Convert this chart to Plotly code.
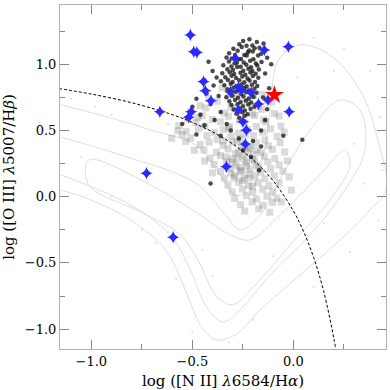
import plotly.graph_objects as go

# contour outlines of the comparison galaxy sample
contour_outer = [(-1.151, 0.693), (-0.954, 0.617), (-0.707, 0.504), (-0.485, 0.391), (-0.362, 0.165),
                 (-0.288, 0.014), (-0.214, 0.051), (-0.154, 0.278), (-0.115, 0.655), (-0.075, 1.032),
                 (0.033, 1.146), (0.181, 1.07), (0.329, 0.806), (0.418, 0.428), (0.458, 0.05),
                 (0.379, -0.1), (0.231, -0.326), (0.033, -0.59), (-0.164, -0.854), (-0.288, -1.043),
                 (-0.386, -1.08), (-0.461, -0.967), (-0.535, -0.703), (-0.633, -0.401), (-0.806, -0.175),
                 (-1.003, -0.024), (-1.151, 0.051)]
contour_mid = [(-1.151, 0.451), (-0.855, 0.315), (-0.485, 0.104), (-0.337, -0.137), (-0.263, -0.251),
               (-0.164, -0.137), (-0.041, 0.202), (0.082, 0.504), (0.23, 0.73), (0.329, 0.655),
               (0.354, 0.353), (0.255, 0.051), (0.082, -0.288), (-0.115, -0.59), (-0.263, -0.854),
               (-0.352, -0.945), (-0.436, -0.817), (-0.51, -0.553), (-0.609, -0.289), (-0.806, -0.062),
               (-1.151, 0.164)]
contour_inner = [(-1.013, 0.277), (-0.707, 0.089), (-0.485, -0.115), (-0.312, -0.288), (-0.214, -0.326),
                 (-0.066, -0.137), (0.131, 0.165), (0.255, 0.353), (0.28, 0.24), (0.181, -0.024),
                 (-0.016, -0.364), (-0.189, -0.666), (-0.302, -0.817), (-0.386, -0.741), (-0.46, -0.515),
                 (-0.559, -0.289), (-0.757, -0.115), (-1.013, 0.089), (-1.013, 0.277)]

faint_pts = [(-1.1, 0.74), (-0.98, 0.68), (-0.9, 0.62), (-0.62, 0.55), (-0.75, -0.25), (-0.68, -0.35),
             (-0.58, -0.62), (-0.5, -1.02), (-0.32, -1.1), (-0.2, -0.93), (0.1, -0.68), (0.28, -0.42),
             (0.42, -0.18), (0.44, 0.2), (0.43, 0.6), (0.38, 0.95), (0.25, 1.12), (0.1, 1.2),
             (-0.04, 1.1), (0.02, 0.9), (0.12, 0.75), (0.2, 0.95), (0.3, 0.4), (0.15, -0.2),
             (-0.1, -0.45), (-0.45, -0.4), (-0.9, 0.0), (-1.05, 0.3), (-0.4, -0.6), (0.35, 0.1)]

gray_pts = [(-0.352, 0.823), (-0.284, 0.781), (-0.231, 0.827), (-0.151, 0.772),
            (-0.418, 0.742), (-0.318, 0.768), (-0.257, 0.731), (-0.197, 0.762), (-0.128, 0.728),
            (-0.462, 0.688), (-0.377, 0.721), (-0.309, 0.676), (-0.228, 0.712), (-0.176, 0.683), (-0.108, 0.716),
            (-0.508, 0.642), (-0.433, 0.671), (-0.341, 0.632), (-0.291, 0.664), (-0.203, 0.627), (-0.158, 0.661),
            (-0.094, 0.628), (-0.524, 0.587), (-0.452, 0.612), (-0.401, 0.583), (-0.322, 0.608), (-0.268, 0.577),
            (-0.192, 0.614), (-0.146, 0.581), (-0.071, 0.609), (-0.567, 0.537), (-0.483, 0.561), (-0.438, 0.532),
            (-0.362, 0.567), (-0.318, 0.529), (-0.243, 0.558), (-0.184, 0.531), (-0.137, 0.566), (-0.062, 0.534),
            (-0.531, 0.494), (-0.471, 0.512), (-0.392, 0.486), (-0.347, 0.509), (-0.273, 0.481), (-0.226, 0.507),
            (-0.152, 0.488), (-0.113, 0.513), (-0.046, 0.487), (-0.508, 0.443), (-0.428, 0.462), (-0.377, 0.431),
            (-0.309, 0.458), (-0.264, 0.436), (-0.198, 0.461), (-0.141, 0.429), (-0.081, 0.456),
            (-0.461, 0.394), (-0.418, 0.411), (-0.348, 0.386), (-0.302, 0.413), (-0.241, 0.381), (-0.183, 0.408),
            (-0.124, 0.384), (-0.066, 0.409), (-0.443, 0.352), (-0.381, 0.336), (-0.323, 0.361), (-0.271, 0.339),
            (-0.219, 0.364), (-0.163, 0.332), (-0.104, 0.357), (-0.043, 0.338), (-0.412, 0.292), (-0.361, 0.311),
            (-0.303, 0.286), (-0.252, 0.309), (-0.203, 0.283), (-0.144, 0.306), (-0.092, 0.289),
            (-0.393, 0.243), (-0.331, 0.262), (-0.284, 0.237), (-0.232, 0.259), (-0.181, 0.239), (-0.127, 0.263),
            (-0.071, 0.241), (-0.361, 0.191), (-0.314, 0.213), (-0.262, 0.188), (-0.213, 0.208), (-0.162, 0.186),
            (-0.113, 0.211), (-0.052, 0.193), (-0.342, 0.139), (-0.291, 0.161), (-0.243, 0.137), (-0.192, 0.159),
            (-0.141, 0.136), (-0.094, 0.158), (-0.324, 0.087), (-0.271, 0.109), (-0.222, 0.085), (-0.174, 0.106),
            (-0.121, 0.083), (-0.071, 0.104), (-0.303, 0.037), (-0.252, 0.058), (-0.201, 0.034), (-0.152, 0.056),
            (-0.103, 0.038), (-0.291, -0.013), (-0.233, 0.008), (-0.183, -0.017), (-0.131, 0.004), (-0.082, -0.011),
            (-0.262, -0.061), (-0.204, -0.039), (-0.152, -0.064), (-0.103, -0.043),
            (-0.241, -0.108), (-0.172, -0.091), (-0.117, -0.117),
            (-0.287, 0.327), (-0.241, 0.278), (-0.268, 0.221), (-0.224, 0.171), (-0.257, 0.372), (-0.198, 0.318),
            (-0.233, 0.229), (-0.302, 0.262), (-0.192, 0.268), (-0.279, 0.418), (-0.238, 0.468), (-0.318, 0.516),
            (-0.212, 0.378), (-0.252, 0.123), (-0.203, 0.078), (-0.348, 0.421), (-0.172, 0.218), (-0.309, 0.178),
            (-0.226, 0.332), (-0.276, 0.289), (-0.181, 0.352), (-0.334, 0.301), (-0.258, 0.197), (-0.214, 0.142),
            (-0.293, 0.142), (-0.572, 0.498), (-0.602, 0.441), (-0.533, 0.418), (-0.472, 0.598), (-0.55, 0.47),
            (-0.49, 0.35), (-0.44, 0.27), (-0.4, 0.18), (-0.02, 0.15), (-0.03, 0.27), (-0.01, 0.05), (-0.06, -0.04)]

black_pts = [(-0.218, 1.19), (-0.181, 1.168), (-0.249, 1.176), (-0.203, 1.143), (-0.268, 1.151), (-0.148, 1.157),
             (-0.297, 1.118), (-0.256, 1.131), (-0.219, 1.104), (-0.168, 1.126), (-0.232, 1.14), (-0.192, 1.122),
             (-0.318, 1.083), (-0.276, 1.102), (-0.243, 1.071), (-0.201, 1.096), (-0.159, 1.079), (-0.226, 1.089),
             (-0.331, 1.052), (-0.289, 1.071), (-0.259, 1.041), (-0.231, 1.066), (-0.198, 1.038), (-0.175, 1.067),
             (-0.305, 1.044), (-0.319, 1.021), (-0.291, 1.009), (-0.271, 1.039), (-0.246, 1.014), (-0.214, 1.027),
             (-0.186, 1.006), (-0.158, 1.018), (-0.347, 0.993), (-0.307, 0.984), (-0.28, 1.011), (-0.261, 0.981),
             (-0.233, 0.997), (-0.21, 0.978), (-0.179, 0.991), (-0.327, 0.962), (-0.299, 0.958), (-0.279, 0.979),
             (-0.248, 0.951), (-0.223, 0.967), (-0.203, 0.949), (-0.171, 0.961), (-0.352, 0.932), (-0.315, 0.941),
             (-0.293, 0.926), (-0.262, 0.937), (-0.238, 0.922), (-0.213, 0.939), (-0.187, 0.928), (-0.337, 0.902),
             (-0.306, 0.913), (-0.284, 0.896), (-0.253, 0.908), (-0.227, 0.893), (-0.201, 0.911), (-0.174, 0.898),
             (-0.359, 0.872), (-0.324, 0.882), (-0.301, 0.866), (-0.268, 0.879), (-0.243, 0.864), (-0.217, 0.877),
             (-0.19, 0.866), (-0.342, 0.841), (-0.31, 0.853), (-0.283, 0.836), (-0.257, 0.848), (-0.232, 0.832),
             (-0.205, 0.846), (-0.179, 0.837), (-0.327, 0.812), (-0.297, 0.823), (-0.271, 0.806), (-0.246, 0.819),
             (-0.219, 0.803), (-0.193, 0.815), (-0.315, 0.783), (-0.286, 0.792), (-0.259, 0.776), (-0.234, 0.789),
             (-0.207, 0.771), (-0.182, 0.786), (-0.332, 0.751), (-0.302, 0.763), (-0.275, 0.747), (-0.247, 0.758),
             (-0.221, 0.742), (-0.197, 0.754), (-0.317, 0.722), (-0.289, 0.731), (-0.262, 0.714), (-0.235, 0.727),
             (-0.209, 0.711), (-0.307, 0.692), (-0.277, 0.699), (-0.25, 0.683), (-0.223, 0.696), (-0.193, 0.679),
             (-0.295, 0.658), (-0.267, 0.667), (-0.24, 0.651), (-0.212, 0.664), (-0.282, 0.627), (-0.254, 0.638),
             (-0.227, 0.622), (-0.268, 0.596), (-0.241, 0.611),
             (-0.42, 1.02), (-0.4, 0.95), (-0.38, 0.9), (-0.44, 0.88), (-0.395, 0.84), (-0.43, 0.78),
             (-0.48, 0.74), (-0.37, 0.76), (-0.41, 0.7), (-0.5, 0.68), (-0.46, 0.62), (-0.36, 0.64),
             (-0.39, 0.58), (-0.33, 0.55), (-0.44, 0.54), (-0.31, 0.5), (-0.36, 0.46), (-0.27, 0.44),
             (-0.2, 0.42), (-0.16, 0.5), (-0.14, 0.58), (-0.13, 0.66), (-0.15, 0.75), (-0.12, 0.82),
             (-0.14, 0.93), (-0.11, 1.0), (-0.13, 1.05), (-0.16, 0.38), (-0.05, 0.46), (0.044, 0.43),
             (-0.21, 0.3), (-0.41, 0.1), (-0.17, 0.2), (-0.25, 0.35), (-0.55, 0.55), (-0.48, 0.47)]

# Kewley et al. (2001) maximum starburst line, sampled
kew_x = [-1.16, -1.0, -0.8, -0.6, -0.5, -0.4, -0.3, -0.2, -0.1, 0.0, 0.05, 0.1, 0.15, 0.2, 0.21]
kew_y = [0.817, 0.775, 0.710, 0.620, 0.561, 0.489, 0.398, 0.280, 0.120, -0.108, -0.262, -0.459, -0.716, -1.069, -1.156]

blue_x = [-0.51, -0.493, -0.478, -0.025, -0.144, -0.287, -0.445, -0.436, -0.408, -0.312, -0.272, -0.255,
          -0.209, -0.173, -0.126, -0.021, -0.272, -0.250, -0.233, -0.238, -0.332, -0.661, -0.506, -0.518,
          -0.727, -0.595]
blue_y = [1.221, 1.095, 1.09, 1.133, 1.108, 1.045, 0.869, 0.80, 0.725, 0.793, 0.826, 0.806,
          0.786, 0.70, 0.73, 0.642, 0.655, 0.567, 0.503, 0.398, 0.227, 0.642, 0.642, 0.60,
          0.177, -0.306]

red_x = [-0.094]
red_y = [0.768]

FONT = "DejaVu Serif"

fig = go.Figure()
for c in (contour_outer, contour_mid, contour_inner):
    fig.add_trace(go.Scatter(x=[p[0] for p in c], y=[p[1] for p in c], mode='lines',
                             line=dict(color='#ddd6e6', width=0.9, shape='spline'), hoverinfo='skip'))
fig.add_trace(go.Scatter(x=[p[0] for p in faint_pts], y=[p[1] for p in faint_pts], mode='markers',
                         marker=dict(size=2, color='#ddd6e6')))
fig.add_trace(go.Scatter(x=[p[0] for p in gray_pts], y=[p[1] for p in gray_pts], mode='markers',
                         marker=dict(symbol='square', size=7, color='rgba(80,80,80,0.21)', line=dict(width=0))))
fig.add_trace(go.Scatter(x=[p[0] for p in black_pts], y=[p[1] for p in black_pts], mode='markers',
                         marker=dict(size=4.5, color='rgba(15,15,15,0.75)', line=dict(width=0))))
fig.add_trace(go.Scatter(x=kew_x, y=kew_y, mode='lines',
                         line=dict(color='black', width=1, dash='3px,2px', shape='spline')))
fig.add_trace(go.Scatter(x=blue_x, y=blue_y, mode='markers',
                         marker=dict(symbol='star-diamond', size=9, color='#2a2aff', line=dict(width=0))))
fig.add_trace(go.Scatter(x=red_x, y=red_y, mode='markers',
                         marker=dict(symbol='star', size=14, color='#ff0000', line=dict(width=0))))

axis_common = dict(showgrid=False, zeroline=False, ticks='inside', ticklen=9, tickwidth=1,
                   tickcolor='#888888', showline=True, linecolor='#b0b0b0', linewidth=1, mirror='allticks',
                   tickformat='.1f', tickfont=dict(family=FONT, size=13, color='black'), automargin=False,
                   minor=dict(ticks='inside', ticklen=5, tickcolor='#888888', dtick=0.25))
fig.update_xaxes(range=[-1.155, 0.458], dtick=0.5, tick0=0,
                 title=dict(text='log ([N II] <i>λ</i>6584/H<i>α</i>)',
                            font=dict(family=FONT, size=15, color='black')), **axis_common)
fig.update_yaxes(range=[-1.15, 1.448], dtick=0.5, tick0=0,
                 title=dict(text='log ([O III] <i>λ</i>5007/H<i>β</i>)',
                            font=dict(family=FONT, size=15, color='black')), **axis_common)
fig.update_layout(width=390, height=390, margin=dict(l=60, r=4, t=5, b=41),
                  plot_bgcolor='white', paper_bgcolor='white', showlegend=False)
fig.write_html("out.html", config={'displayModeBar': False},
               post_script="document.body.style.margin='0';")
